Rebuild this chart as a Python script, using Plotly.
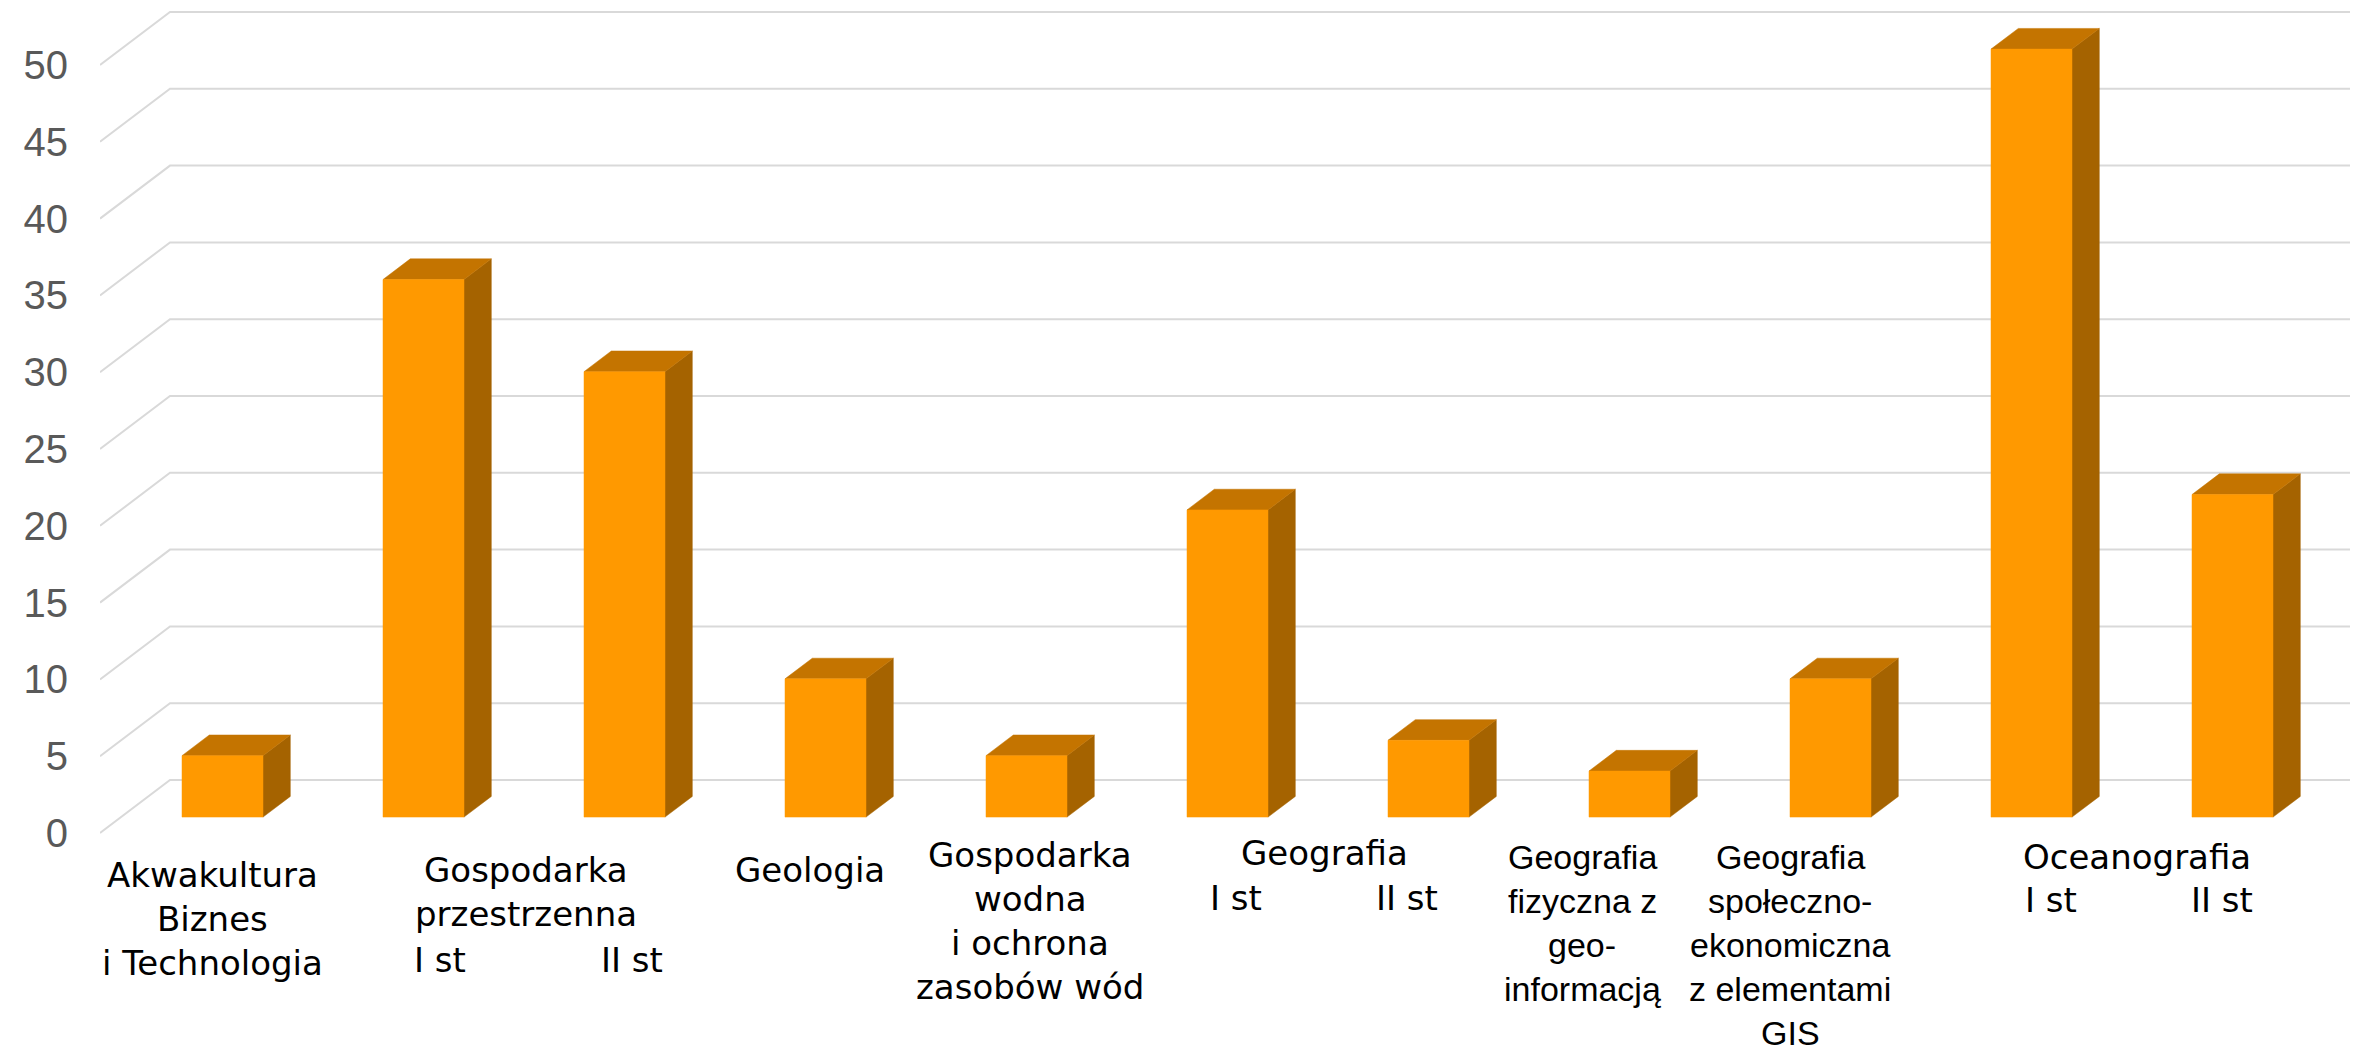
import plotly.graph_objects as go

# data
CATEGORIES = [
    "Akwakultura Biznes i Technologia",
    "Gospodarka przestrzenna I st",
    "Gospodarka przestrzenna II st",
    "Geologia",
    "Gospodarka wodna i ochrona zasobów wód",
    "Geografia I st",
    "Geografia II st",
    "Geografia fizyczna z geoinformacją",
    "Geografia społeczno-ekonomiczna z elementami GIS",
    "Oceanografia I st",
    "Oceanografia II st",
]
VALUES = [4, 35, 29, 9, 4, 20, 5, 3, 9, 50, 21]
Y_TICKS = [0, 5, 10, 15, 20, 25, 30, 35, 40, 45, 50]

WIDE = dict(family="DejaVu Sans", size=34, color="black")
NARROW = dict(family="Liberation Sans, Arial", size=34, color="black")

# group labels under the bars: (lines, x px, first line y px, anchor, font)
LABELS = [
    (["Akwakultura", "Biznes", "i Technologia"], 212, 875, "center", WIDE),
    (["Gospodarka", "przestrzenna"], 526, 870, "center", WIDE),
    (["I st"], 412, 960, "left", WIDE),
    (["II st"], 665, 960, "right", WIDE),
    (["Geologia"], 810, 870, "center", WIDE),
    (["Gospodarka", "wodna", "i ochrona", "zasobów wód"], 1030, 855, "center", WIDE),
    (["Geografia"], 1324, 853, "center", WIDE),
    (["I st"], 1208, 898, "left", WIDE),
    (["II st"], 1440, 898, "right", WIDE),
    (["Geografia", "fizyczna z", "geo-", "informacją"], 1582, 857, "center", NARROW),
    (["Geografia", "społeczno-", "ekonomiczna", "z elementami", "GIS"], 1790, 857, "center", NARROW),
    (["Oceanografia"], 2137, 857, "center", WIDE),
    (["I st"], 2023, 900, "left", WIDE),
    (["II st"], 2255, 900, "right", WIDE),
]

PAGE_W, PAGE_H = 2358, 1053
BODY = 8          # default page margin around the plot div
LEFT = 100        # left edge of the plot area in page pixels
PX_X = 201.0      # pixels per category
PX_Y = 15.36      # pixels per unit
Y0_PX = 833       # page row of value 0 on the front plane
X_MIN = -0.505

# perspective: full depth from front plane to back wall
DX = 70 / PX_X
DY = 53 / PX_Y
D_FRONT, D_BACK = 0.30, 0.69
BAR_W = 0.403
LINE_GAP = 44

FRONT = "#FF9900"
TOP = "#C47400"
SIDE = "#A56300"
GRID = "#D9D9D9"


def to_x(px):
    return X_MIN + (px - LEFT) / PX_X


def to_y(py):
    return (Y0_PX - py) / PX_Y


x_max = to_x(PAGE_W)
y_max, y_min = to_y(BODY), to_y(PAGE_H)

fig = go.Figure()

# floor/side-wall diagonals and back-wall gridlines
gx, gy = [], []
for t in Y_TICKS:
    gx += [X_MIN, X_MIN + DX, x_max, None]
    gy += [t, t + DY, t + DY, None]
fig.add_trace(go.Scatter(x=gx, y=gy, mode="lines", line=dict(color=GRID, width=2),
                         hoverinfo="skip", showlegend=False))

# 3D faces of each bar
ddx = (D_BACK - D_FRONT) * DX
ddy = (D_BACK - D_FRONT) * DY
base = D_FRONT * DY
fx, fy, sx, sy, tx, ty = [], [], [], [], [], []
for i, v in enumerate(VALUES):
    xc = i + D_FRONT * DX
    xl, xr = xc - BAR_W / 2, xc + BAR_W / 2
    fx += [xl, xr, xr, xl, xl, None]
    fy += [base, base, base + v, base + v, base, None]
    sx += [xr, xr + ddx, xr + ddx, xr, xr, None]
    sy += [base, base + ddy, base + v + ddy, base + v, base, None]
    tx += [xl, xr, xr + ddx, xl + ddx, xl, None]
    ty += [base + v, base + v, base + v + ddy, base + v + ddy, base + v, None]

for xs, ys, col in [(sx, sy, SIDE), (tx, ty, TOP), (fx, fy, FRONT)]:
    fig.add_trace(go.Scatter(x=xs, y=ys, mode="lines", fill="toself", fillcolor=col,
                             line=dict(color=col, width=0.5), hoverinfo="skip",
                             showlegend=False))

# invisible points carrying the hover text
fig.add_trace(go.Scatter(
    x=[i + D_FRONT * DX for i in range(len(VALUES))],
    y=[base + v / 2 for v in VALUES],
    mode="markers", marker=dict(size=1, opacity=0),
    customdata=list(zip(CATEGORIES, VALUES)),
    hovertemplate="%{customdata[0]}: %{customdata[1]}<extra></extra>",
    showlegend=False,
))

for lines, px, py, anchor, font in LABELS:
    for k, line in enumerate(lines):
        fig.add_annotation(
            x=to_x(px), y=to_y(py + k * LINE_GAP), xref="x", yref="y",
            text=line, showarrow=False, xanchor=anchor, yanchor="middle",
            font=font,
        )

fig.update_layout(
    width=PAGE_W - BODY,
    height=PAGE_H - BODY,
    margin=dict(l=LEFT - BODY, r=0, t=0, b=0),
    paper_bgcolor="white",
    plot_bgcolor="white",
    xaxis=dict(range=[X_MIN, x_max], visible=False),
    yaxis=dict(
        range=[y_min, y_max],
        tickvals=Y_TICKS,
        showgrid=False,
        zeroline=False,
        showline=False,
        ticks="",
        ticklabelstandoff=31,
        tickfont=dict(family="Liberation Sans, Arial", size=40, color="#595959"),
    ),
)

fig.write_html("out.html")
